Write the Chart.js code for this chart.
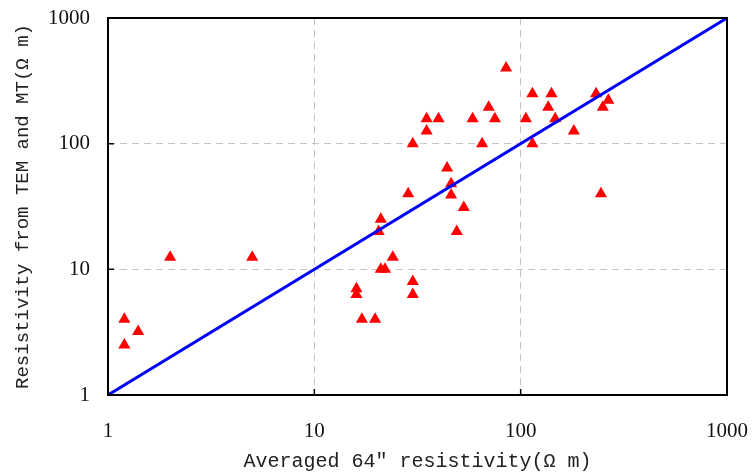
<!DOCTYPE html>
<html>
<head>
<meta charset="utf-8">
<script src="https://cdn.jsdelivr.net/npm/chart.js@4"></script>
<style>
  body { margin: 0; background: #fff; }
  canvas { display: block; }
</style>
</head>
<body>
<canvas id="resChart" width="752" height="475"></canvas>
<script>
/* averaged 64" resistivity vs TEM/MT resistivity (ohm-m) */
const avg64 = [1.2, 1.4, 1.2, 2, 5,
  16, 16, 17, 19.7, 21, 22, 24, 30, 30, 21, 20.5, 28.5, 46, 46, 53, 49,
  85, 35, 40, 35, 30, 58.5, 70, 75, 65, 44,
  114, 141, 136, 106, 147, 181, 114, 232, 266, 250, 245];
const temMt = [4, 3.2, 2.5, 12.5, 12.5,
  7, 6.3, 4, 4, 10, 10, 12.5, 8, 6.3, 25, 20, 40, 48, 39, 31, 20,
  400, 158, 158, 126, 100, 158, 195, 158, 100, 64,
  250, 250, 195, 158, 158, 126, 100, 250, 222, 195, 40];

/* 1:1 reference line */
const lineX = [1, 1000];
const lineY = [1, 1000];

const axisTicks = [1, 10, 100, 1000];
const gridAt = [10, 100];

const points = avg64.map((x, i) => ({x, y: temMt[i]}));
const diag = lineX.map((x, i) => ({x, y: lineY[i]}));

/* frame + inward tick marks */
const frame = {
  id: 'frame',
  afterDraw(chart) {
    const {ctx, chartArea: a, scales} = chart;
    ctx.save();
    ctx.setLineDash([]);
    ctx.strokeStyle = '#000';
    ctx.lineWidth = 1.5;
    gridAt.forEach(v => {
      const px = scales.x.getPixelForValue(v);
      const py = scales.y.getPixelForValue(v);
      ctx.beginPath();
      ctx.moveTo(px, a.bottom); ctx.lineTo(px, a.bottom - 6);
      ctx.moveTo(a.left, py); ctx.lineTo(a.left + 6, py);
      ctx.stroke();
    });
    ctx.lineWidth = 2;
    ctx.strokeRect(a.left, a.top, a.right - a.left, a.bottom - a.top);
    ctx.restore();
  }
};

function logAxis(title, size, titleSize, titlePad) {
  return {
    type: 'logarithmic',
    min: 1,
    max: 1000,
    afterBuildTicks: s => { s.ticks = axisTicks.map(v => ({value: v})); },
    afterFit: s => {
      size(s);
      s.paddingTop = s.paddingBottom = s.paddingLeft = s.paddingRight = 0;
    },
    border: {display: false, dash: [7, 5]},
    grid: {
      drawTicks: false,
      lineWidth: 1,
      color: c => gridAt.includes(c.tick.value) ? '#c4c4c4' : 'rgba(0,0,0,0)'
    },
    ticks: {
      autoSkip: false,
      maxRotation: 0,
      padding: 18,
      color: '#111',
      font: {family: 'Liberation Serif', size: 21},
      callback: v => String(v)
    },
    title: {
      display: true,
      text: title,
      color: '#222',
      font: {family: 'Liberation Mono', size: titleSize},
      padding: titlePad
    }
  };
}

const xAxis = logAxis('Averaged 64″ resistivity(Ω m)', s => { s.height = 80; }, 20, {top: 0, bottom: 1});
xAxis.ticks.padding = 24;

new Chart(document.getElementById('resChart'), {
  data: {
    datasets: [
      {
        type: 'scatter',
        data: points,
        pointStyle: 'triangle',
        pointRadius: 7,
        pointHoverRadius: 7,
        backgroundColor: '#ff0000',
        borderColor: '#ff0000',
        borderWidth: 0,
        order: 2
      },
      {
        type: 'line',
        data: diag,
        borderColor: '#0000ff',
        borderWidth: 3,
        pointRadius: 0,
        fill: false,
        order: 1
      }
    ]
  },
  options: {
    responsive: false,
    animation: false,
    devicePixelRatio: 1,
    layout: {padding: {top: 18, right: 25, left: 0, bottom: 0}},
    plugins: {legend: {display: false}, tooltip: {enabled: false}},
    scales: {
      x: xAxis,
      y: logAxis('Resistivity from TEM and MT(Ω m)', s => { s.width = 108; }, 19, {top: 12, bottom: 0})
    }
  },
  plugins: [frame]
});
</script>
</body>
</html>
